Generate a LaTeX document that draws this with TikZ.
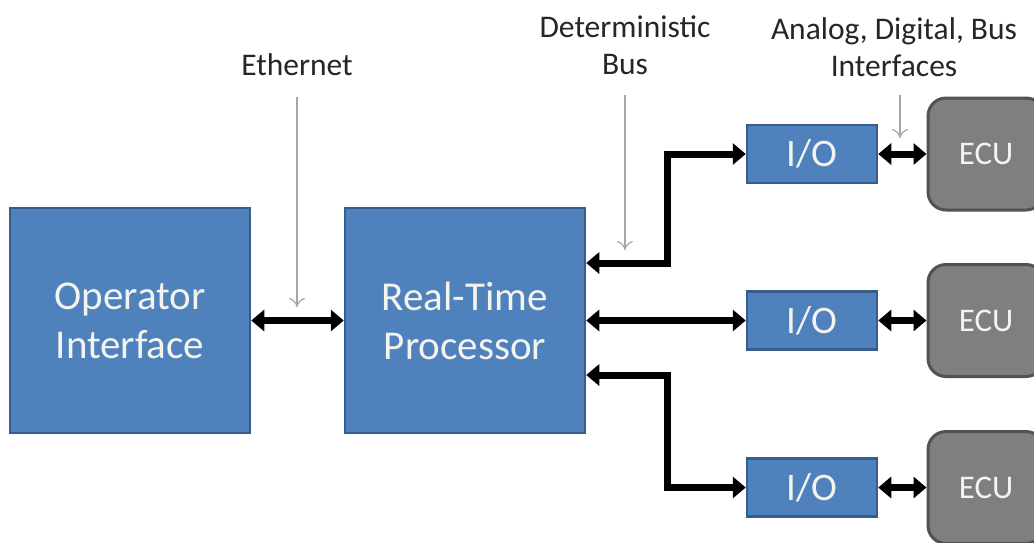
\documentclass[tikz,border=0pt]{standalone}
\usepackage{fontspec}
\setmainfont{Carlito}
\usetikzlibrary{arrows.meta}
\definecolor{boxblue}{HTML}{4F81BD}
\definecolor{boxedge}{HTML}{385D8A}
\definecolor{ecugray}{HTML}{7F7F7F}
\definecolor{ecuedge}{HTML}{525252}
\definecolor{txtlight}{HTML}{F4F4EE}
\definecolor{ptrgray}{HTML}{A6A6A6}
\definecolor{lbl}{HTML}{262626}
\begin{document}
\begin{tikzpicture}[x=1pt,y=-1pt,
  bigbox/.style={draw=boxedge,line width=2.5pt,fill=boxblue,text=txtlight,
    minimum width=240pt,minimum height=225pt,align=center,inner sep=0pt,
    font=\fontsize{41}{49}\selectfont},
  iobox/.style={draw=boxedge,line width=2.5pt,fill=boxblue,text=txtlight,
    minimum width=130pt,minimum height=58pt,inner sep=0pt,
    font=\fontsize{39}{42}\selectfont},
  ecubox/.style={draw=ecuedge,line width=3pt,fill=ecugray,text=txtlight,
    minimum width=116pt,minimum height=112pt,inner sep=0pt,rounded corners=18pt,
    font=\fontsize{33}{36}\selectfont},
  lab/.style={text=lbl,align=center,inner sep=0pt,font=\fontsize{31.5}{37}\selectfont},
  bus/.style={line width=7pt,{Triangle[length=13pt,width=21pt]}-{Triangle[length=13pt,width=21pt]}},
  pointer/.style={draw=ptrgray,line width=1.2pt,-{To[length=9pt,width=16pt]}}
]
\useasboundingbox (0,0) rectangle (1034,542);
\clip (0,0) rectangle (1034,542);
\fill[white] (0,0) rectangle (1034,542);

\node[bigbox] (op) at (130,320.5) {Operator\\Interface};
\node[bigbox] (rtp) at (465,320.5) {Real-Time\\Processor};

\node[iobox] (io1) at (812,154) {I/O};
\node[iobox] (io2) at (812,320.5) {I/O};
\node[iobox] (io3) at (812,487.5) {I/O};

\node[ecubox] (ecu1) at (986,154) {ECU};
\node[ecubox] (ecu2) at (986,320.5) {ECU};
\node[ecubox] (ecu3) at (986,487.5) {ECU};

\node[lab] (eth) at (297,65) {Ethernet};
\node[lab] (det) at (625,45) {Deterministic\\Bus};
\node[lab] (adb) at (894,47) {Analog, Digital, Bus\\Interfaces};

\coordinate (b1) at (667,263);
\coordinate (b3) at (667,375);
\coordinate (ethtip) at (297,307);
\coordinate (dettip) at (625,250);
\coordinate (adbtip) at (900,138);
\coordinate (ethtop) at (297,97);
\coordinate (dettop) at (625,95);
\coordinate (adbtop) at (900,95);

\draw[bus] (op.east) -- (rtp.west);
\draw[bus] (rtp.east |- b1) -- (b1) |- (io1.west);
\draw[bus] (rtp.east) -- (io2.west);
\draw[bus] (rtp.east |- b3) -- (b3) |- (io3.west);
\draw[bus] (io1.east) -- (ecu1.west);
\draw[bus] (io2.east) -- (ecu2.west);
\draw[bus] (io3.east) -- (ecu3.west);

\draw[pointer] (ethtop) -- (ethtip);
\draw[pointer] (dettop) -- (dettip);
\draw[pointer] (adbtop) -- (adbtip);
\end{tikzpicture}
\end{document}
